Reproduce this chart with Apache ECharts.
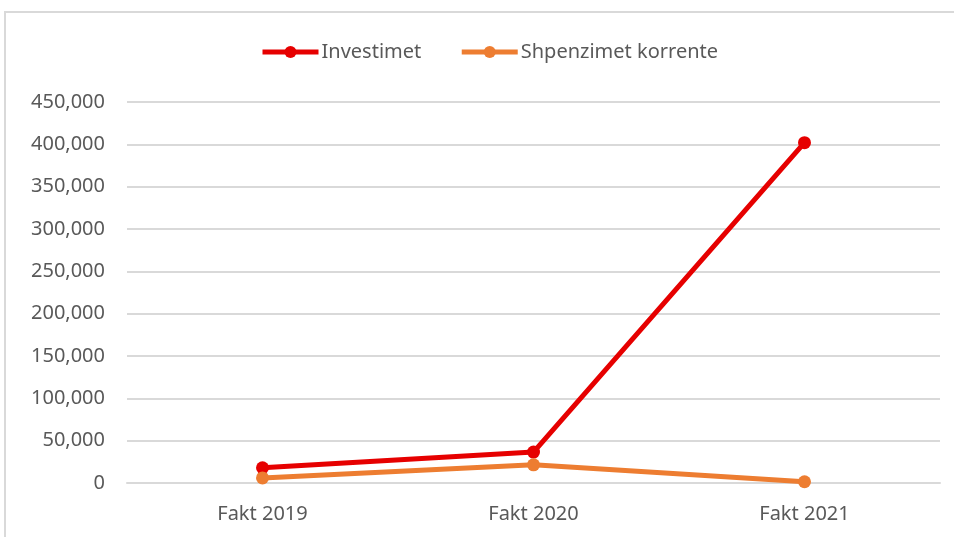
<!DOCTYPE html>
<html>
<head>
<meta charset="utf-8">
<script src="https://cdn.jsdelivr.net/npm/echarts@6/dist/echarts.min.js"></script>
<style>
    html, body { margin: 0; padding: 0; background: #fff; }
    .frame {
        position: absolute; left: 4px; top: 11px; width: 960px; height: 540px;
        border-top: 2px solid #d9d9d9; border-left: 2px solid #d9d9d9;
    }
    #chart { position: absolute; left: 0; top: 0; width: 954px; height: 537px; }
</style>
</head>
<body>
<div class="frame"></div>
<div id="chart"></div>
<script>
const categories = ['Fakt 2019', 'Fakt 2020', 'Fakt 2021'];
const investimet = [18000, 36500, 402000];
const shpenzimet = [6000, 21500, 1500];
const seriesNames = ['Investimet', 'Shpenzimet korrente'];

const font = '"Noto Sans", "Open Sans", sans-serif';
const labelColor = '#595959';

const chart = echarts.init(document.getElementById('chart'), null, { renderer: 'canvas' });

chart.setOption({
    animation: false,
    textStyle: { fontFamily: font },
    legend: {
        top: 37,
        left: 255,
        itemWidth: 56,
        itemHeight: 15,
        itemGap: 38,
        lineStyle: { width: 5 },
        textStyle: { color: labelColor, fontSize: 20, fontFamily: font, padding: [0, 0, 0, -2] },
        data: seriesNames
    },
    grid: { left: 127, right: 14, top: 102, bottom: 54, containLabel: false },
    xAxis: {
        type: 'category',
        data: categories,
        boundaryGap: true,
        axisLine: { show: true, lineStyle: { color: '#d9d9d9', width: 2 } },
        axisTick: { show: false },
        axisLabel: { color: labelColor, fontSize: 20, margin: 21, fontFamily: font }
    },
    yAxis: {
        type: 'value',
        min: 0,
        max: 450000,
        interval: 50000,
        axisLine: { show: false },
        axisTick: { show: false },
        splitLine: { lineStyle: { color: '#d9d9d9', width: 2 } },
        axisLabel: {
            color: labelColor, fontSize: 20, margin: 22, fontFamily: font,
            formatter: v => v.toLocaleString('en-US')
        }
    },
    series: [
        {
            name: seriesNames[0],
            type: 'line',
            data: investimet,
            symbol: 'circle',
            symbolSize: 13,
            lineStyle: { color: '#e60000', width: 5 },
            itemStyle: { color: '#e60000' }
        },
        {
            name: seriesNames[1],
            type: 'line',
            data: shpenzimet,
            symbol: 'circle',
            symbolSize: 13,
            lineStyle: { color: '#ed7d31', width: 5 },
            itemStyle: { color: '#ed7d31' }
        }
    ]
});
</script>
</body>
</html>
